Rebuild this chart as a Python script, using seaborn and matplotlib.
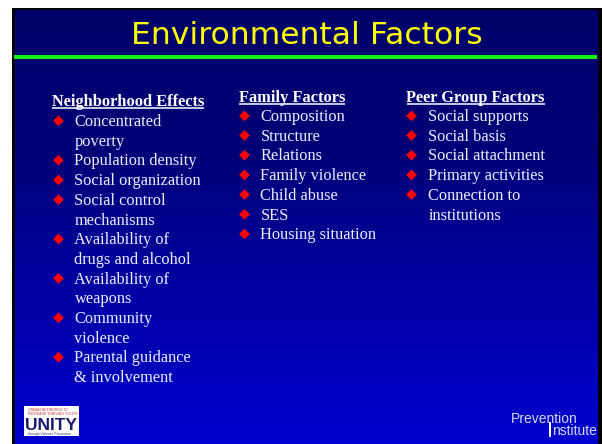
import matplotlib
matplotlib.use("Agg")
import matplotlib.pyplot as plt
import numpy as np
import pandas as pd
import seaborn as sns
from matplotlib.colors import LinearSegmentedColormap
from matplotlib.patches import Rectangle

# ---------------- data ----------------
title = "Environmental Factors"
headers = ["Neighborhood Effects", "Family Factors", "Peer Group Factors"]
neighborhood_items = ["Concentrated\npoverty", "Population density", "Social organization",
                      "Social control\nmechanisms", "Availability of\ndrugs and alcohol",
                      "Availability of\nweapons", "Community\nviolence",
                      "Parental guidance\n& involvement"]
family_items = ["Composition", "Structure", "Relations", "Family violence",
                "Child abuse", "SES", "Housing situation"]
peer_items = ["Social supports", "Social basis", "Social attachment",
              "Primary activities", "Connection to\ninstitutions"]
columns = [neighborhood_items, family_items, peer_items]

logo_lines = ["URBAN NETWORKS TO", "INCREASE THRIVING YOUTH", "UNITY",
              "through Violence Prevention"]
footer_left = "Prevention"
footer_right = "nstitute"

# ---------------- layout ----------------
W, H = 602, 444
head_x = [52, 239, 406.5]
bullet_x = [58.5, 244.5, 411.5]
text_x = [74.5, 260.5, 428.5]
head_base = [106, 102, 102]
first_base = [126, 121, 121]
step = 19.7

sns.set_theme(style="white")
plt.rcParams["font.family"] = ["Liberation Serif", "DejaVu Serif"]

fig = plt.figure(figsize=(W / 100, H / 100), dpi=100)
fig.patch.set_facecolor("white")
ax = fig.add_axes([0, 0, 1, 1])
ax.set_axis_off()

# slide frame and background gradient
ax.add_patch(Rectangle((12, 8), W - 12, H - 8, facecolor="black", edgecolor="none", zorder=0))
cmap = LinearSegmentedColormap.from_list("slide", ["#00006a", "#000078", "#0000a6", "#0000d0"])
grad = np.linspace(0, 1, 256).reshape(-1, 1)
ax.imshow(grad, extent=[15, 598, H, 11], aspect="auto", cmap=cmap, zorder=1,
          interpolation="bilinear")

# green rule
ax.add_patch(Rectangle((14, 55), 583, 4.5, facecolor="#11f011", edgecolor="none", zorder=2))

# title
ax.text(307, 44, title, color="#ffff00", fontsize=22.6, ha="center", va="baseline",
        family=["DejaVu Sans"], zorder=3)

# columns
bullets = []
header_texts = []
for ci, items in enumerate(columns):
    t = ax.text(head_x[ci], head_base[ci], headers[ci], color="white", fontsize=11.8,
                fontweight="bold", ha="left", va="baseline", zorder=3)
    header_texts.append((t, head_base[ci]))
    line = 0
    for item in items:
        y0 = first_base[ci] + line * step
        bullets.append({"col": ci, "x": bullet_x[ci], "y": y0 - 5.2})
        for sub in item.split("\n"):
            yb = first_base[ci] + line * step
            ax.text(text_x[ci], yb, sub, color="#eeeeff", fontsize=11.8, ha="left",
                    va="baseline", zorder=3)
            line += 1

bdf = pd.DataFrame(bullets)
sns.scatterplot(data=bdf, x="x", y="y", marker="D", color="#ff0000", s=30,
                edgecolor="none", legend=False, ax=ax, zorder=4)

ax.set_xlim(0, W)
ax.set_ylim(H, 0)

# underline headers
fig.canvas.draw()
renderer = fig.canvas.get_renderer()
inv = ax.transData.inverted()
for t, yb in header_texts:
    bb = t.get_window_extent(renderer)
    (x0, _), (x1, _) = inv.transform([(bb.x0, bb.y0), (bb.x1, bb.y1)])
    ax.plot([x0, x1], [yb + 2.3, yb + 2.3], color="white", lw=1.1, zorder=3,
            solid_capstyle="butt")

# logo
ax.add_patch(Rectangle((24, 406), 55, 30, facecolor="white", edgecolor="none", zorder=3))
ax.text(28, 411, logo_lines[0], color="#cc3333", fontsize=2.6, ha="left", va="baseline",
        family=["Liberation Sans", "DejaVu Sans"], zorder=4)
ax.text(28, 414.5, logo_lines[1], color="#cc3333", fontsize=2.6, ha="left", va="baseline",
        family=["Liberation Sans", "DejaVu Sans"], zorder=4)
ax.text(51, 430, logo_lines[2], color="#1a1a6e", fontsize=12.5, fontweight="bold",
        ha="center", va="baseline", family=["Liberation Sans", "DejaVu Sans"],
        zorder=4)
ax.text(28, 434.5, logo_lines[3], color="#333366", fontsize=2.4, ha="left", va="baseline",
        family=["Liberation Sans", "DejaVu Sans"], zorder=4)

# Prevention Institute
ax.text(511, 423.3, footer_left, color="#d8d8ec", fontsize=10, ha="left", va="baseline",
        family=["Liberation Sans", "DejaVu Sans"], zorder=3)
ax.add_patch(Rectangle((548.5, 422), 2.2, 15, facecolor="white", edgecolor="none", zorder=3))
ax.text(552.5, 435, footer_right, color="#d8d8ec", fontsize=10, ha="left", va="baseline",
        family=["Liberation Sans", "DejaVu Sans"], zorder=3)

fig.savefig("out.png", dpi=100, facecolor="white")
